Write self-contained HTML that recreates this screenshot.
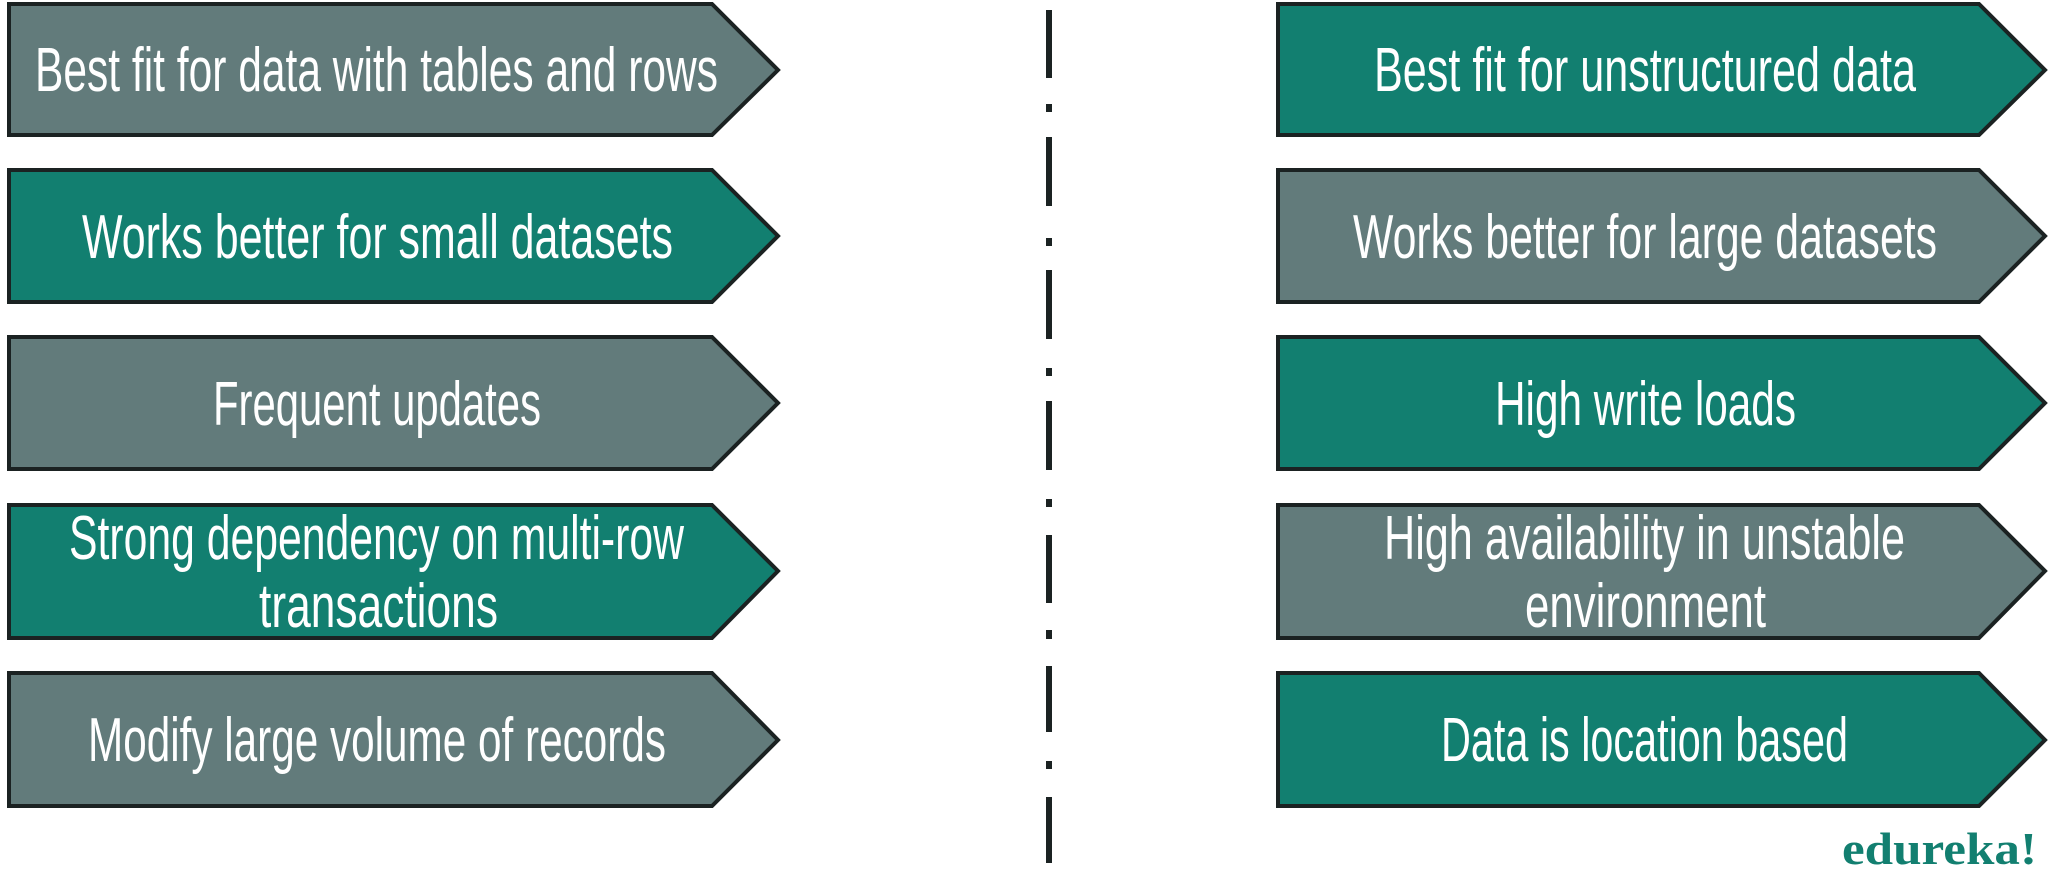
<!DOCTYPE html>
<html><head><meta charset="utf-8"><style>html,body{margin:0;padding:0;background:#fff}svg{display:block}</style></head>
<body>
<svg width="2048" height="872" viewBox="0 0 2048 872" xmlns="http://www.w3.org/2000/svg">
<defs>
<style>
.t{font-family:"Liberation Sans Narrow","Liberation Sans",sans-serif;font-size:62px;fill:#fff}
.g{fill:#627b7b;stroke:#1b2222;stroke-width:4}
.c{fill:#127f70;stroke:#1b2222;stroke-width:4}
</style>
</defs>
<polygon class="g" points="9,4 712,4 778,70 712,135 9,135"/>
<polygon class="c" points="9,170 712,170 778,236 712,302 9,302"/>
<polygon class="g" points="9,337 712,337 778,403 712,469 9,469"/>
<polygon class="c" points="9,505 712,505 778,571 712,638 9,638"/>
<polygon class="g" points="9,673 712,673 778,740 712,806 9,806"/>
<polygon class="c" points="1278,4 1979,4 2045,70 1979,135 1278,135"/>
<polygon class="g" points="1278,170 1979,170 2045,236 1979,302 1278,302"/>
<polygon class="c" points="1278,337 1979,337 2045,403 1979,469 1278,469"/>
<polygon class="g" points="1278,505 1979,505 2045,571 1979,638 1278,638"/>
<polygon class="c" points="1278,673 1979,673 2045,740 1979,806 1278,806"/>
<g fill="#1b2222">
<rect x="1046" y="10" width="6" height="68"/><rect x="1046" y="104" width="6" height="8"/>
<rect x="1046" y="137" width="6" height="69"/><rect x="1046" y="238" width="6" height="8"/>
<rect x="1046" y="270" width="6" height="69"/><rect x="1046" y="368" width="6" height="8"/>
<rect x="1046" y="401" width="6" height="69"/><rect x="1046" y="499" width="6" height="8"/>
<rect x="1046" y="535" width="6" height="68"/><rect x="1046" y="630" width="6" height="9"/>
<rect x="1046" y="666" width="6" height="66"/><rect x="1046" y="761" width="6" height="8"/>
<rect x="1046" y="797" width="6" height="66"/>
</g>
<text class="t" x="35" y="91" textLength="683" lengthAdjust="spacingAndGlyphs">Best fit for data with tables and rows</text>
<text class="t" x="82" y="258" textLength="591" lengthAdjust="spacingAndGlyphs">Works better for small datasets</text>
<text class="t" x="213" y="425" textLength="328" lengthAdjust="spacingAndGlyphs">Frequent updates</text>
<text class="t" x="69" y="559" textLength="615" lengthAdjust="spacingAndGlyphs">Strong dependency on multi-row</text>
<text class="t" x="259" y="627" textLength="239" lengthAdjust="spacingAndGlyphs">transactions</text>
<text class="t" x="88" y="761" textLength="578" lengthAdjust="spacingAndGlyphs">Modify large volume of records</text>
<text class="t" x="1374" y="91" textLength="542" lengthAdjust="spacingAndGlyphs">Best fit for unstructured data</text>
<text class="t" x="1353" y="258" textLength="584" lengthAdjust="spacingAndGlyphs">Works better for large datasets</text>
<text class="t" x="1495" y="425" textLength="301" lengthAdjust="spacingAndGlyphs">High write loads</text>
<text class="t" x="1384" y="559" textLength="521" lengthAdjust="spacingAndGlyphs">High availability in unstable</text>
<text class="t" x="1525" y="627" textLength="241" lengthAdjust="spacingAndGlyphs">environment</text>
<text class="t" x="1441" y="761" textLength="407" lengthAdjust="spacingAndGlyphs">Data is location based</text>
<text x="1842" y="864" font-family="Liberation Serif,serif" font-weight="bold" font-size="46" fill="#127f70" textLength="195" lengthAdjust="spacingAndGlyphs">edureka!</text>
</svg>
</body></html>
